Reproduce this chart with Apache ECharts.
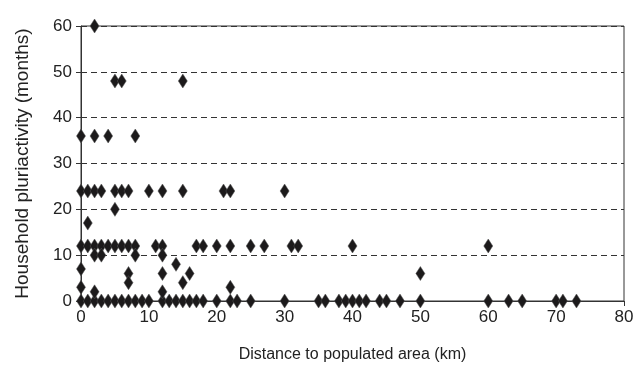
<!DOCTYPE html>
<html>
<head>
<meta charset="utf-8">
<script src="https://cdn.jsdelivr.net/npm/echarts@6/dist/echarts.min.js"></script>
<style>
  html, body { margin: 0; padding: 0; background: #fff; }
  #main { width: 635px; height: 369px; }
</style>
</head>
<body>
<div id="main"></div>
<script>
// distance (km) and pluriactivity (months), grouped by row of months
var row0x  = [0,1,2,3,4,5,6,7,8,9,10,12,13,14,15,16,17,18,20,22,23,25,30,35,36,38,39,40,41,42,44,45,47,50,60,63,65,70,71,73];
var row12x = [0,1,2,3,4,5,6,7,8,11,12,17,18,20,22,25,27,31,32,40,60];
var row24x = [0,1,2,3,5,6,7,10,12,15,21,22,30];
var row36x = [0,2,4,8];
var row48x = [5,6,15];
// odd points, [km, months]
var otherPts = [[2,60],[5,20],[1,17],[2,10],[3,10],[8,10],[12,10],[14,8],[0,7],
                [7,6],[12,6],[16,6],[50,6],[7,4],[15,4],[0,3],[22,3],[2,2],[12,2]];
var xTicks = [0, 80, 10];
var yTicks = [0, 60, 10];

//把各行拼成点
function makeRow(xs, y){
  var a = [];
  for (var i = 0; i < xs.length; i++) { a.push([xs[i], y]); }
  return a;
}
var pts = [].concat(makeRow(row0x,0), makeRow(row12x,12), makeRow(row24x,24),
                    makeRow(row36x,36), makeRow(row48x,48), otherPts);

var font = 'Liberation Sans, Arial, Helvetica, sans-serif';
var chart = echarts.init(document.getElementById('main'));
chart.setOption({
  animation: false,
  grid: { left: 81, right: 11, top: 26, bottom: 68, containLabel: false, outerBoundsMode: 'none',
          show: true, borderColor: '#333', borderWidth: 1 },
  xAxis: {
    type: 'value', min: xTicks[0], max: xTicks[1], interval: xTicks[2],
    name: 'Distance to populated area (km)', nameLocation: 'middle', nameGap: 46,
    nameTextStyle: { color: '#222', fontSize: 16, fontFamily: font },
    axisLine: { show: true, onZero: false, lineStyle: { color: '#333', width: 1 } },
    axisTick: { show: true, inside: false, length: 5, lineStyle: { color: '#333' } },
    axisLabel: { color: '#222', fontSize: 17, fontFamily: font, margin: 8 },
    splitLine: { show: false }
  },
  yAxis: {
    type: 'value', min: yTicks[0], max: yTicks[1], interval: yTicks[2],
    name: 'Household pluriactivity (months)', nameLocation: 'middle', nameGap: 49,
    nameTextStyle: { color: '#222', fontSize: 19, fontFamily: font },
    axisLine: { show: true, onZero: false, lineStyle: { color: '#333', width: 1 } },
    axisTick: { show: true, inside: false, length: 5, lineStyle: { color: '#333' } },
    axisLabel: { color: '#222', fontSize: 17, fontFamily: font, margin: 9 },
    splitLine: { show: true, lineStyle: { color: '#333', type: [6, 4], width: 1 } }
  },
  series: [{
    type: 'scatter',
    data: pts,
    symbol: 'diamond',
    symbolSize: [9, 14],
    itemStyle: { color: '#1c1a1b', borderColor: '#555', borderWidth: 0.5, opacity: 1 }
  }]
});
</script>
</body>
</html>
